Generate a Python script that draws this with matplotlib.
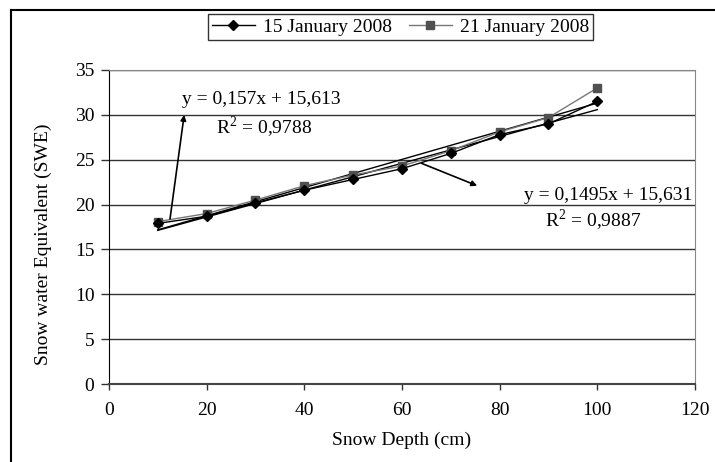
import matplotlib.pyplot as plt
import matplotlib.lines as mlines

plt.rcParams['font.family'] = ['Liberation Serif', 'DejaVu Serif']
plt.rcParams['mathtext.fontset'] = 'custom'
plt.rcParams['mathtext.rm'] = 'Liberation Serif'

# Data
depth = [10, 20, 30, 40, 50, 60, 70, 80, 90, 100]
swe_15jan = [17.9, 18.7, 20.2, 21.6, 22.8, 24.0, 25.7, 27.8, 29.0, 31.5]
swe_21jan = [18.1, 19.0, 20.5, 22.1, 23.3, 24.3, 26.0, 28.1, 29.7, 33.0]

# Linear trend coefficients shown on the chart
trend_a = (0.157, 15.613)
trend_b = (0.1495, 15.631)

x_ticks = [0, 20, 40, 60, 80, 100, 120]
y_ticks = [0, 5, 10, 15, 20, 25, 30, 35]

FS = 14

fig = plt.figure(figsize=(7.15, 4.62), dpi=100)
ax = fig.add_axes([0.1524, 0.1688, 0.8196, 0.6797])

# gridlines
for yv in y_ticks[1:]:
    ax.axhline(yv, color='#333333', lw=1.0, zorder=1)

# trend lines
tx = [depth[0], depth[-1]]
for a, b in (trend_a, trend_b):
    ax.plot(tx, [a * v + b for v in tx], color='black', lw=1.0, zorder=2)

ax.plot(depth, swe_21jan, color='#777777', lw=1.0, marker='s', ms=6,
        mfc='#505050', mec='#505050', zorder=3)
ax.plot(depth, swe_15jan, color='black', lw=1.0, marker='D', ms=5,
        mfc='black', mec='black', zorder=4)

ax.set_xlim(0, 120)
ax.set_ylim(0, 35)
ax.set_xticks(x_ticks)
ax.set_yticks(y_ticks)
ax.tick_params(labelsize=FS, direction='out', width=1, color='#333333')
ax.tick_params(axis='x', length=4, pad=9)
ax.tick_params(axis='y', length=5.5, pad=5)
ax.spines['left'].set_color('black')
ax.spines['bottom'].set_color('#444444')
ax.spines['bottom'].set_linewidth(1.5)
ax.spines['top'].set_color('#888888')
ax.spines['right'].set_color('#888888')

ax.set_xlabel('Snow Depth (cm)', fontsize=FS, labelpad=9)
fig.text(0.060, 0.472, 'Snow water Equivalent (SWE)', rotation=90,
         fontsize=FS, ha='center', va='center')

# equations and arrows
ax.text(14.95, 31.75, 'y = 0,157x + 15,613', fontsize=FS, va='center', ha='left')
ax.text(22.0, 28.65, 'R$^2$ = 0,9788', fontsize=FS, va='center', ha='left')
ax.text(119.4, 21.0, 'y = 0,1495x + 15,631', fontsize=FS, va='center', ha='right')
ax.text(89.3, 18.2, 'R$^2$ = 0,9887', fontsize=FS, va='center', ha='left')
ax.annotate('', xy=(15.4, 30.0), xytext=(12.5, 18.4),
            arrowprops=dict(arrowstyle='-|>', color='black', lw=1.2,
                            mutation_scale=8, shrinkA=0, shrinkB=0), zorder=5)
ax.annotate('', xy=(75.4, 22.1), xytext=(64.0, 24.6),
            arrowprops=dict(arrowstyle='-|>', color='black', lw=1.2,
                            mutation_scale=8, shrinkA=0, shrinkB=0), zorder=5)

# legend
h1 = mlines.Line2D([], [], color='black', lw=1.0, marker='D', ms=5)
h2 = mlines.Line2D([], [], color='#777777', lw=1.0, marker='s', ms=6,
                   mfc='#505050', mec='#505050')
leg = fig.legend([h1, h2], ['15 January 2008', '21 January 2008'], ncol=2,
                 loc='center', bbox_to_anchor=(0.56, 0.9416), fontsize=FS,
                 frameon=True, fancybox=False, edgecolor='black',
                 handlelength=2.2, handletextpad=0.4, columnspacing=0.9,
                 borderpad=0.2, borderaxespad=0)
leg.get_frame().set_linewidth(1.0)

# outer frame (cropped)
fig.add_artist(mlines.Line2D([11 / 715, 11 / 715], [0, 1 - 10 / 462],
                             transform=fig.transFigure, color='black', lw=1.5))
fig.add_artist(mlines.Line2D([11 / 715, 1], [1 - 10 / 462, 1 - 10 / 462],
                             transform=fig.transFigure, color='black', lw=1.5))

fig.savefig('out.png', dpi=100)
